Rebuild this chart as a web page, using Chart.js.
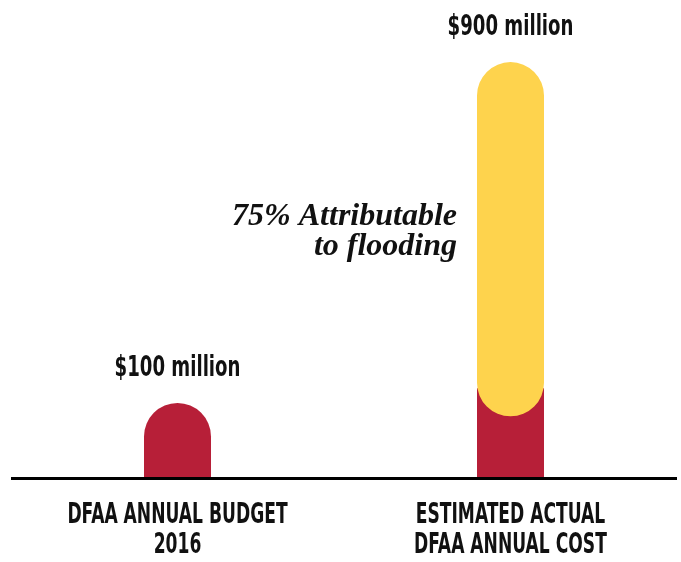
<!DOCTYPE html>
<html>
<head>
<meta charset="utf-8">
<script src="https://cdn.jsdelivr.net/npm/chart.js@4.4.1/dist/chart.umd.min.js"></script>
<style>
  html, body { margin: 0; padding: 0; background: #fff; }
  #wrap { width: 681px; height: 562px; }
</style>
</head>
<body>
<div id="wrap"><canvas id="myChart"></canvas></div>
<script>
// values (bars are drawn schematically, not to scale)
var categories = [['DFAA ANNUAL BUDGET', '2016'], ['ESTIMATED ACTUAL', 'DFAA ANNUAL COST']];
var valueLabels = ['$100 million', '$900 million'];
var redValues = [100, 120];
var yellowValues = [null, [82, 561]];
var noteLines = ['75% Attributable', 'to flooding'];

var RED = '#b71f38';
var YELLOW = '#fed34d';
var CAPS = 'bold 28px "DejaVu Sans Condensed", "Liberation Sans Narrow", sans-serif';

function condensed(c, text, x, y, font, sx, align) {
    c.save();
    c.font = font;
    c.textAlign = align || 'center';
    c.textBaseline = 'alphabetic';
    c.translate(x, y);
    c.scale(sx, 1);
    c.fillText(text, 0, 0);
    c.restore();
}

var labelsPlugin = {
    id: 'labels',
    afterDatasetsDraw: function(chart) {
        var c = chart.ctx;
        var area = chart.chartArea;
        var xs = chart.scales.x;

        // baseline
        c.save();
        c.strokeStyle = '#000';
        c.lineWidth = 3;
        c.beginPath();
        c.moveTo(area.left, area.bottom + 1.5);
        c.lineTo(area.right, area.bottom + 1.5);
        c.stroke();
        c.restore();

        c.fillStyle = '#111';
        categories.forEach(function(lines, i) {
            var x = xs.getPixelForValue(i);
            // value label above the highest bar piece
            var top = area.bottom;
            chart.data.datasets.forEach(function(ds, d) {
                var el = chart.getDatasetMeta(d).data[i];
                if (el && ds.data[i] != null) top = Math.min(top, el.y);
            });
            condensed(c, valueLabels[i], x, top - 27, CAPS, 0.72);
            // category label
            lines.forEach(function(line, k) {
                condensed(c, line, x, area.bottom + 46 + k * 30, CAPS, 0.68);
            });
        });

        // note next to the yellow part
        var y = chart.getDatasetMeta(0).data[1];
        var mid = (y.y + y.base) / 2;
        c.save();
        c.font = 'italic bold 32px "Liberation Serif", "DejaVu Serif", serif';
        c.textAlign = 'right';
        c.fillStyle = '#111';
        c.fillText(noteLines[0], y.x - y.width / 2 - 20, mid - 14);
        c.fillText(noteLines[1], y.x - y.width / 2 - 20, mid + 16);
        c.restore();
    }
};

var ctx = document.getElementById('myChart');

var myChart = new Chart(ctx, {
    type: 'bar',
    data: {
        labels: categories,
        datasets: [{
            label: 'Attributable to flooding',
            data: yellowValues,
            backgroundColor: YELLOW,
            borderRadius: 40,
            borderSkipped: false,
            order: 1
        }, {
            label: 'DFAA',
            data: redValues,
            backgroundColor: RED,
            borderRadius: function(c) { return c.dataIndex === 0 ? 40 : 0; },
            order: 2
        }]
    },
    options: {
        responsive: true,
        maintainAspectRatio: false,
        animation: false,
        devicePixelRatio: 1,
        layout: { padding: { left: 11, right: 4, top: 0, bottom: 85 } },
        datasets: { bar: { barThickness: 67, grouped: false, inflateAmount: 0 } },
        plugins: { legend: { display: false }, tooltip: { enabled: false } },
        scales: {
            x: { display: false },
            y: { display: false, min: 0, max: 645 }
        }
    },
    plugins: [labelsPlugin]
});
</script>
</body>
</html>
